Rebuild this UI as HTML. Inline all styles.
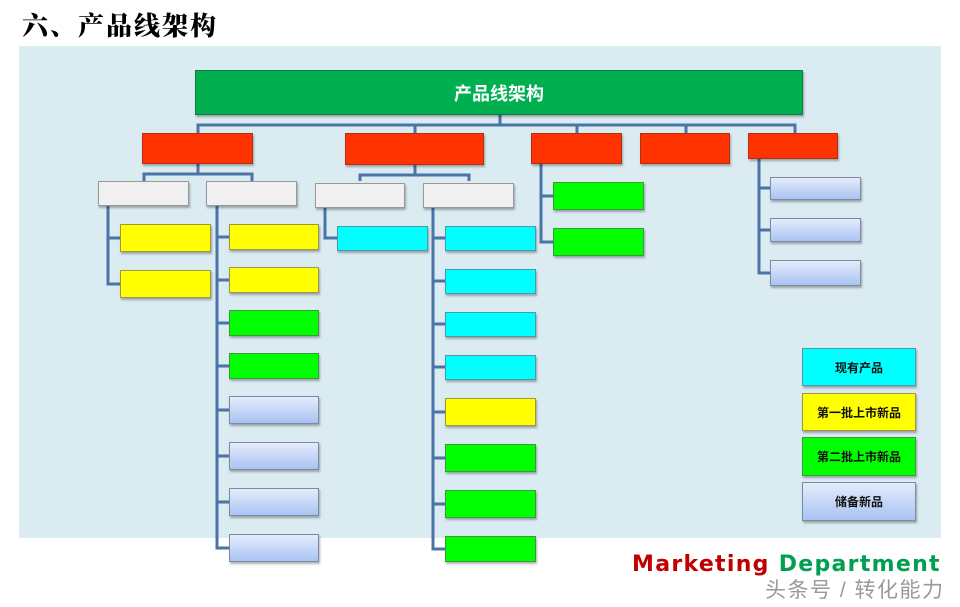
<!DOCTYPE html>
<html><head><meta charset="utf-8"><style>
body{margin:0;width:960px;height:607px;background:#fff;position:relative;overflow:hidden;font-family:"Liberation Sans","Noto Sans CJK SC",sans-serif}
.b{position:absolute;box-sizing:border-box;border:1px solid #7a7a7a;box-shadow:1px 2px 2px rgba(0,0,0,.3)}
.r{background:#ff3300;border-color:#b03010}
.g{background:#f0f0f0;border-color:#999}
.y{background:#ffff00;border-color:#999940}
.gr{background:#00ff00;border-color:#3a9a3a}
.c{background:#00ffff;border-color:#4a9aaa}
.bl{background:linear-gradient(#e4ecfb,#a9c3f3);border-color:#7f8aa0}
.lg{display:flex;align-items:center;justify-content:center;font-size:12px;font-weight:bold;color:#111}
</style></head><body>
<div style="position:absolute;left:22px;top:6px;font-size:26px;font-weight:900;font-family:'Noto Serif CJK SC','Noto Sans CJK SC',serif;color:#000;letter-spacing:2px">六、产品线架构</div>
<div style="position:absolute;left:19px;top:46px;width:922px;height:492px;background:#daebf1"></div>
<svg width="960" height="607" style="position:absolute;left:0;top:0" fill="none" stroke="#4a74a8" stroke-width="3">
<path d="M500 115V125M198 133V125H795V133M415 125V133M577 125V133M686 125V133"/>
<path d="M198 164V174M144 181V174H252V181M415 165V175M360 181V175H469V181"/>
<path d="M108 206V284H120M108 238H120"/>
<path d="M217 206V548H229M217 237H229M217 280H229M217 323H229M217 366H229M217 410H229M217 456H229M217 502H229"/>
<path d="M325 206V238H337"/>
<path d="M433 206V549H445M433 238H445M433 281H445M433 324H445M433 367H445M433 412H445M433 458H445M433 504H445"/>
<path d="M541 164V242H553M541 196H553"/>
<path d="M759 159V273H770M759 188H770M759 230H770"/>
</svg>
<div class="b" style="left:195px;top:70px;width:608px;height:45px;background:#00b050;border-color:#107a40;color:#fff;font-size:18px;font-weight:bold;display:flex;align-items:center;justify-content:center">产品线架构</div>
<div class="b r" style="left:142px;top:133px;width:111px;height:31px"></div>
<div class="b r" style="left:345px;top:133px;width:139px;height:32px"></div>
<div class="b r" style="left:531px;top:133px;width:91px;height:31px"></div>
<div class="b r" style="left:640px;top:133px;width:90px;height:31px"></div>
<div class="b r" style="left:748px;top:133px;width:90px;height:26px"></div>
<div class="b g" style="left:98px;top:181px;width:91px;height:25px"></div>
<div class="b g" style="left:206px;top:181px;width:91px;height:25px"></div>
<div class="b g" style="left:315px;top:183px;width:90px;height:25px"></div>
<div class="b g" style="left:423px;top:183px;width:91px;height:25px"></div>
<div class="b y" style="left:120px;top:224px;width:91px;height:28px"></div>
<div class="b y" style="left:120px;top:270px;width:91px;height:28px"></div>
<div class="b y" style="left:229px;top:224px;width:90px;height:26px"></div>
<div class="b y" style="left:229px;top:267px;width:90px;height:26px"></div>
<div class="b gr" style="left:229px;top:310px;width:90px;height:26px"></div>
<div class="b gr" style="left:229px;top:353px;width:90px;height:26px"></div>
<div class="b bl" style="left:229px;top:396px;width:90px;height:28px"></div>
<div class="b bl" style="left:229px;top:442px;width:90px;height:28px"></div>
<div class="b bl" style="left:229px;top:488px;width:90px;height:28px"></div>
<div class="b bl" style="left:229px;top:534px;width:90px;height:28px"></div>
<div class="b c" style="left:337px;top:226px;width:91px;height:25px"></div>
<div class="b c" style="left:445px;top:226px;width:91px;height:25px"></div>
<div class="b c" style="left:445px;top:269px;width:91px;height:25px"></div>
<div class="b c" style="left:445px;top:312px;width:91px;height:25px"></div>
<div class="b c" style="left:445px;top:355px;width:91px;height:25px"></div>
<div class="b y" style="left:445px;top:398px;width:91px;height:28px"></div>
<div class="b gr" style="left:445px;top:444px;width:91px;height:28px"></div>
<div class="b gr" style="left:445px;top:490px;width:91px;height:28px"></div>
<div class="b gr" style="left:445px;top:536px;width:91px;height:26px"></div>
<div class="b gr" style="left:553px;top:182px;width:91px;height:28px"></div>
<div class="b gr" style="left:553px;top:228px;width:91px;height:28px"></div>
<div class="b bl" style="left:770px;top:177px;width:91px;height:23px"></div>
<div class="b bl" style="left:770px;top:218px;width:91px;height:24px"></div>
<div class="b bl" style="left:770px;top:260px;width:91px;height:26px"></div>
<div class="b c lg" style="left:802px;top:348px;width:114px;height:38px">现有产品</div>
<div class="b y lg" style="left:802px;top:393px;width:114px;height:38px">第一批上市新品</div>
<div class="b gr lg" style="left:802px;top:437px;width:114px;height:39px">第二批上市新品</div>
<div class="b bl lg" style="left:802px;top:482px;width:114px;height:39px">储备新品</div>
<div style="position:absolute;left:632px;top:552px;font-size:22px;font-weight:900;font-family:'DejaVu Sans',sans-serif;letter-spacing:1.3px;white-space:nowrap"><span style="color:#c00000">Marketing</span> <span style="color:#00a050">Department</span></div>
<div style="position:absolute;left:765px;top:574px;font-size:21px;color:#999;white-space:nowrap;letter-spacing:1.5px">头条号 / 转化能力</div>
</body></html>
